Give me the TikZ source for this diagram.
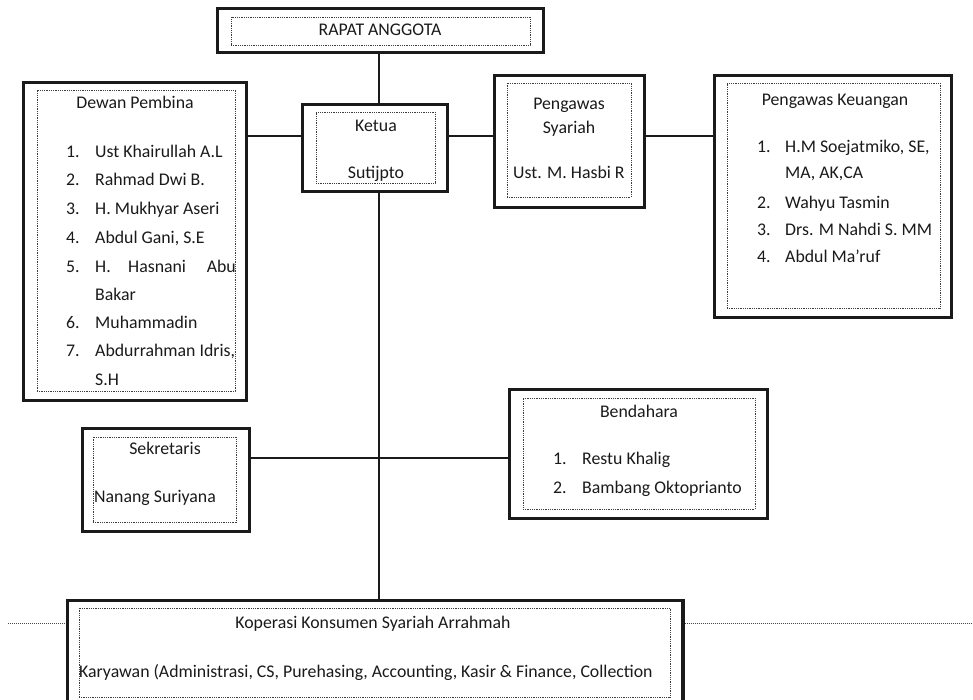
\documentclass[tikz,border=0pt]{standalone}
\usepackage{fontspec}
\setmainfont{Carlito}
\usetikzlibrary{calc}
\definecolor{ink}{HTML}{1A1A1A}
\tikzset{
  outerbox/.style={draw=ink, line width=3.4pt, inner sep=0pt, rectangle},
  innerbox/.style={draw=ink!85, line width=0.9pt, dash pattern=on 0.9pt off 0.9pt, inner sep=0pt, rectangle},
  conn/.style={draw=ink, line width=1.6pt},
  dotline/.style={draw=ink!80, line width=1pt, dash pattern=on 1pt off 1pt},
  txt/.style={inner sep=0pt, text=ink, font=\fontsize{17.8}{20}\selectfont, anchor=base},
  txtl/.style={txt, anchor=base west},
  txtr/.style={txt, anchor=base east}
}
\begin{document}
\begin{tikzpicture}[x=1pt,y=-1pt]
\useasboundingbox (0,0) rectangle (973,699);
\clip (0,0) rectangle (973,699);
% ---------- boxes ----------
\node[outerbox, minimum width=326pt, minimum height=44pt] (rapat) at (380.5,30.5) {};
\node[innerbox, minimum width=299pt, minimum height=28pt] (rapatin) at (380.5,31) {};
\node[outerbox, minimum width=145pt, minimum height=87pt] (ketua) at (375,148) {};
\node[innerbox, minimum width=119pt, minimum height=71pt] (ketuain) at (375.5,147.5) {};
\node[outerbox, minimum width=223pt, minimum height=318pt] (dewan) at (135,241.5) {};
\node[innerbox, minimum width=198pt, minimum height=301pt] (dewanin) at (136,240.5) {};
\node[outerbox, minimum width=150pt, minimum height=132pt] (syariah) at (569.5,141.5) {};
\node[innerbox, minimum width=124pt, minimum height=114pt] (syariahin) at (569,140) {};
\node[outerbox, minimum width=237pt, minimum height=242pt] (keuangan) at (833,196.5) {};
\node[innerbox, minimum width=213pt, minimum height=225pt] (keuanganin) at (833.5,195.5) {};
\node[outerbox, minimum width=167pt, minimum height=103pt] (sekretaris) at (166,480) {};
\node[innerbox, minimum width=143pt, minimum height=85pt] (sekretarisin) at (164.5,479.5) {};
\node[outerbox, minimum width=258pt, minimum height=129pt] (bendahara) at (638.5,454) {};
\node[innerbox, minimum width=232pt, minimum height=111pt] (bendaharain) at (639,453.5) {};
\node[outerbox, minimum width=615.5pt, minimum height=114.5pt] (koperasi) at (375.25,657.75) {};
\node[innerbox, minimum width=591pt, minimum height=89pt] (koperasiin) at (374.5,652.5) {};
% ---------- connectors ----------
\coordinate (rowA) at (0,136);
\coordinate (rowB) at (0,458);
\coordinate (dl) at (8,623);
\coordinate (dr) at (973,623);
\draw[conn] (rapat.south -| 379,0) -- (ketua.north -| 379,0);
\draw[conn] (ketua.south -| 379,0) -- (koperasi.north -| 379,0);
\draw[conn] (dewan.east |- rowA) -- (ketua.west |- rowA);
\draw[conn] (ketua.east |- rowA) -- (syariah.west |- rowA);
\draw[conn] (syariah.east |- rowA) -- (keuangan.west |- rowA);
\draw[conn] (sekretaris.east |- rowB) -- (bendahara.west |- rowB);
\draw[dotline] (dl) -- (koperasi.west |- dl);
\draw[dotline] (koperasi.east |- dl) -- (dr);
% ---------- texts ----------
\node[txt] (t-rapat) at (380,35) {RAPAT ANGGOTA};
\node[txt] (t-ketua) at (376,131) {Ketua};
\node[txt] (t-sutijpto) at (376,178) {Sutijpto};
% Dewan Pembina
\node[txt] (t-dewan) at (135,108) {Dewan Pembina};
\node[txtl] (d1n) at (66,157) {1.};  \node[txtl] (d1) at (95,157) {Ust Khairullah A.L};
\node[txtl] (d2n) at (66,185) {2.};  \node[txtl] (d2) at (95,185) {Rahmad Dwi B.};
\node[txtl] (d3n) at (66,214) {3.};  \node[txtl] (d3) at (95,214) {H. Mukhyar Aseri};
\node[txtl] (d4n) at (66,243) {4.};  \node[txtl] (d4) at (95,243) {Abdul Gani, S.E};
\node[txtl] (d5n) at (66,272) {5.};  \node[txtl] (d5a) at (95,272) {H.};
\node[txtl] (d5b) at (128,272) {Hasnani}; \node[txtr] (d5c) at (236,272) {Abu};
\node[txtl] (d5d) at (95,300) {Bakar};
\node[txtl] (d6n) at (66,328) {6.};  \node[txtl] (d6) at (95,328) {Muhammadin};
\node[txtl] (d7n) at (66,356) {7.};  \node[txtl] (d7) at (95,356) {Abdurrahman Idris,};
\node[txtl] (d7b) at (95,385) {S.H};
% Pengawas Syariah
\node[txt] (t-ps1) at (569,109) {Pengawas};
\node[txt] (t-ps2) at (569,133) {Syariah};
\node[txtl] (t-ps3) at (513,178) {Ust. M. Hasbi R};
% Pengawas Keuangan
\node[txt] (t-pk) at (835,105) {Pengawas Keuangan};
\node[txtl] (k1n) at (757,152) {1.};  \node[txtl] (k1) at (785,152) {H.M Soejatmiko, SE,};
\node[txtl] (k1b) at (785,178) {MA, AK,CA};
\node[txtl] (k2n) at (757,208) {2.};  \node[txtl] (k2) at (785,208) {Wahyu Tasmin};
\node[txtl] (k3n) at (757,235) {3.};  \node[txtl] (k3) at (785,235) {Drs. M Nahdi S. MM};
\node[txtl] (k4n) at (757,262) {4.};  \node[txtl] (k4) at (785,262) {Abdul Ma’ruf};
% Sekretaris
\node[txt] (t-sek) at (165,454) {Sekretaris};
\node[txtl] (t-nanang) at (94,502) {Nanang Suriyana};
% Bendahara
\node[txt] (t-bend) at (639,417) {Bendahara};
\node[txtl] (b1n) at (553,464) {1.};  \node[txtl] (b1) at (582,464) {Restu Khalig};
\node[txtl] (b2n) at (553,493) {2.};  \node[txtl] (b2) at (582,493) {Bambang Oktoprianto};
% Koperasi
\node[txt] (t-kop) at (373,628) {Koperasi Konsumen Syariah Arrahmah};
\node[txtl] (t-kar) at (79,677) {Karyawan (Administrasi, CS, Purehasing, Accounting, Kasir \& Finance, Collection};
\end{tikzpicture}
\end{document}
